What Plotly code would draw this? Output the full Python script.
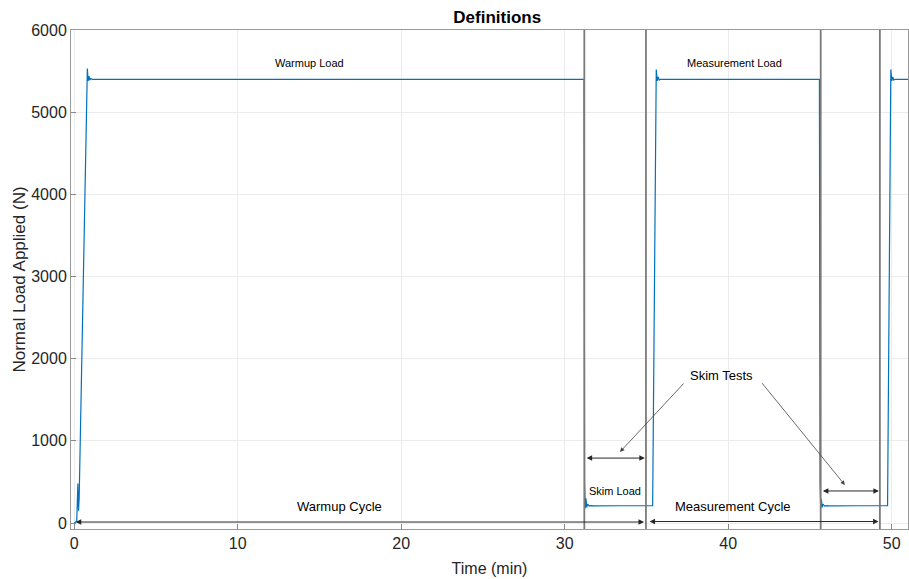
import plotly.graph_objects as go

# ---- data ----
time_min = [0.0, 0.15, 0.22, 0.26, 0.30, 0.80, 0.85, 0.90, 0.95, 1.00, 1.10,
            31.18, 31.22, 31.26, 31.30, 31.35, 31.40, 31.50, 31.60, 31.80, 33.5, 35.38,
            35.60, 35.66, 35.72, 35.78, 35.85, 40.0, 45.58,
            45.62, 45.66, 45.70, 45.75, 45.80, 45.90, 46.00, 46.20, 48.0, 49.75,
            49.95, 50.01, 50.07, 50.13, 50.20, 51.0]
load_N = [0, 20, 480, 150, 300, 5530, 5380, 5440, 5390, 5410, 5400,
          5400, 480, 180, 300, 190, 230, 205, 212, 208, 210, 212,
          5520, 5380, 5430, 5390, 5400, 5400, 5400,
          480, 170, 290, 190, 230, 205, 212, 208, 210, 212,
          5520, 5380, 5430, 5390, 5400, 5400]

boundary_times = [31.2, 34.97, 45.66, 49.28]

x_ticks = [0, 10, 20, 30, 40, 50]
y_ticks = [0, 1000, 2000, 3000, 4000, 5000, 6000]

# text labels: (text, t, load, size)
labels = [("Warmup Load", 14.36, 5600, 11),
          ("Measurement Load", 40.4, 5600, 11),
          ("Skim Load", 33.07, 390, 11),
          ("Warmup Cycle", 16.2, 195, 13),
          ("Measurement Cycle", 40.3, 195, 13),
          ("Skim Tests", 39.6, 1800, 13)]

# double-headed span arrows: (t_start, t_end, load)
spans = [(0.0, 34.85, 12), (35.1, 49.2, 18), (31.25, 34.9, 790), (45.7, 49.22, 390)]

# pointer arrows from "Skim Tests": (t_from, load_from, t_to, load_to)
pointers = [(37.36, 1716, 33.38, 864), (42.0, 1720, 47.14, 462)]

FONT = "Arial, Liberation Sans, Helvetica, sans-serif"
TXT = "#262626"

fig = go.Figure()
fig.add_trace(go.Scatter(x=time_min, y=load_N, mode="lines",
                         line=dict(color="#0072BD", width=1.2),
                         hoverinfo="skip", showlegend=False))

shapes = []
for t in boundary_times:
    shapes.append(dict(type="line", xref="x", yref="paper", x0=t, x1=t, y0=0, y1=1,
                       line=dict(color="#7a7a7a", width=1.8)))

annotations = []
for text, t, ld, sz in labels:
    annotations.append(dict(x=t, y=ld, xref="x", yref="y", text=text, showarrow=False,
                            font=dict(family=FONT, size=sz, color="black")))
for t0, t1, ld in spans:
    annotations.append(dict(x=t1, y=ld, ax=t0, ay=ld, xref="x", yref="y",
                            axref="x", ayref="y", text="", showarrow=True,
                            arrowhead=2, startarrowhead=2, arrowside="end+start",
                            arrowsize=1.1, startarrowsize=1.1, arrowwidth=1,
                            arrowcolor=TXT))
for tf, lf, tt, lt in pointers:
    annotations.append(dict(x=tt, y=lt, ax=tf, ay=lf, xref="x", yref="y",
                            axref="x", ayref="y", text="", showarrow=True,
                            arrowhead=2, arrowsize=1.1, arrowwidth=0.8,
                            arrowcolor="#444444"))

fig.update_layout(
    width=909, height=579,
    margin=dict(l=71, r=1, t=30, b=50),
    paper_bgcolor="white", plot_bgcolor="white",
    font=dict(family=FONT, color=TXT),
    title=dict(text="<b>Definitions</b>", x=0.547, xanchor="center", y=0.97, yanchor="middle",
               font=dict(family=FONT, size=17, color="black")),
    shapes=shapes, annotations=annotations,
    xaxis=dict(range=[-0.2, 51.0], tickvals=x_ticks, ticks="inside", ticklen=5,
               tickcolor="#888", showgrid=True, gridcolor="#ececec", zeroline=False,
               showline=True, linecolor="#9a9a9a", linewidth=1, mirror=True,
               tickfont=dict(size=16, color=TXT),
               title=dict(text="Time (min)", font=dict(size=16, color=TXT), standoff=11)),
    yaxis=dict(range=[-73, 6000], tickvals=y_ticks, ticks="inside", ticklen=5,
               tickcolor="#888", showgrid=True, gridcolor="#ececec", zeroline=False,
               showline=True, linecolor="#9a9a9a", linewidth=1, mirror=True,
               tickfont=dict(size=16, color=TXT),
               title=dict(text="Normal Load Applied (N)", font=dict(size=17, color=TXT), standoff=1)),
)

fig.write_html("out.html")
